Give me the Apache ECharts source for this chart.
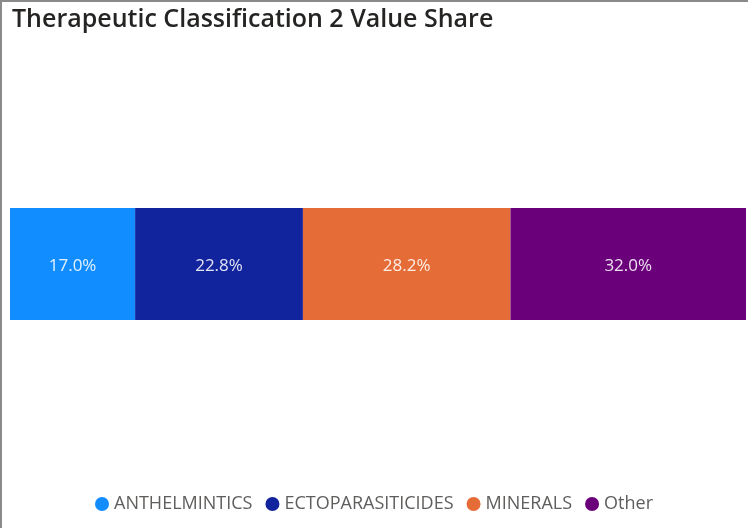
<!DOCTYPE html>
<html>
<head>
<meta charset="utf-8">
<script src="https://cdn.jsdelivr.net/npm/echarts@6/dist/echarts.min.js"></script>
<style>
html, body { margin: 0; padding: 0; background: #fff; }
#chart { width: 748px; height: 528px; }
</style>
</head>
<body>
<div id="chart"></div>
<script>
// share of value per therapeutic class, in percent
var categories = ["Share"];
var seriesNames = ["ANTHELMINTICS", "ECTOPARASITICIDES", "MINERALS", "Other"];
var seriesValues = [17.0, 22.8, 28.2, 32.0];
var colors = ["#118DFF", "#12239E", "#E66C37", "#6B007B"];

var myChart = echarts.init(document.getElementById("chart"));
var series = [];
for (var i = 0; i < seriesNames.length; i++) {
    series.push({
        name: seriesNames[i],
        type: "bar",
        stack: "total",
        barCategoryGap: 0,
        data: [seriesValues[i]],
        itemStyle: {color: colors[i]},
        label: {
            show: true,
            position: "inside",
            offset: [0, 2],
            color: "rgba(255,255,255,0.88)",
            fontFamily: "Open Sans",
            fontSize: 17,
            formatter: function (p) { return p.value.toFixed(1) + "%"; }
        }
    });
}

var option = {
    animation: false,
    color: colors,
    title: {
        text: "Therapeutic Classification 2 Value Share",
        left: 7,
        top: 2,
        textStyle: {fontFamily: "Open Sans", fontWeight: 600, fontSize: 25, color: "#252423"}
    },
    legend: {
        data: seriesNames,
        bottom: 10,
        left: "center",
        icon: "circle",
        itemWidth: 14,
        itemHeight: 14,
        itemGap: 13,
        textStyle: {fontFamily: "Open Sans", fontSize: 18, color: "#605E5C", padding: [0, 0, 0, 0]}
    },
    grid: {left: 10, right: 2, top: 208, height: 112},
    xAxis: {type: "value", min: 0, max: 100, show: false},
    yAxis: {type: "category", data: categories, show: false},
    graphic: [
        {type: "line", shape: {x1: 1, y1: 0, x2: 1, y2: 528}, style: {stroke: "#8a8a8a", lineWidth: 2}},
        {type: "line", shape: {x1: 0, y1: 1, x2: 748, y2: 1}, style: {stroke: "#8a8a8a", lineWidth: 2}}
    ],
    series: series
};
myChart.setOption(option);
</script>
</body>
</html>
